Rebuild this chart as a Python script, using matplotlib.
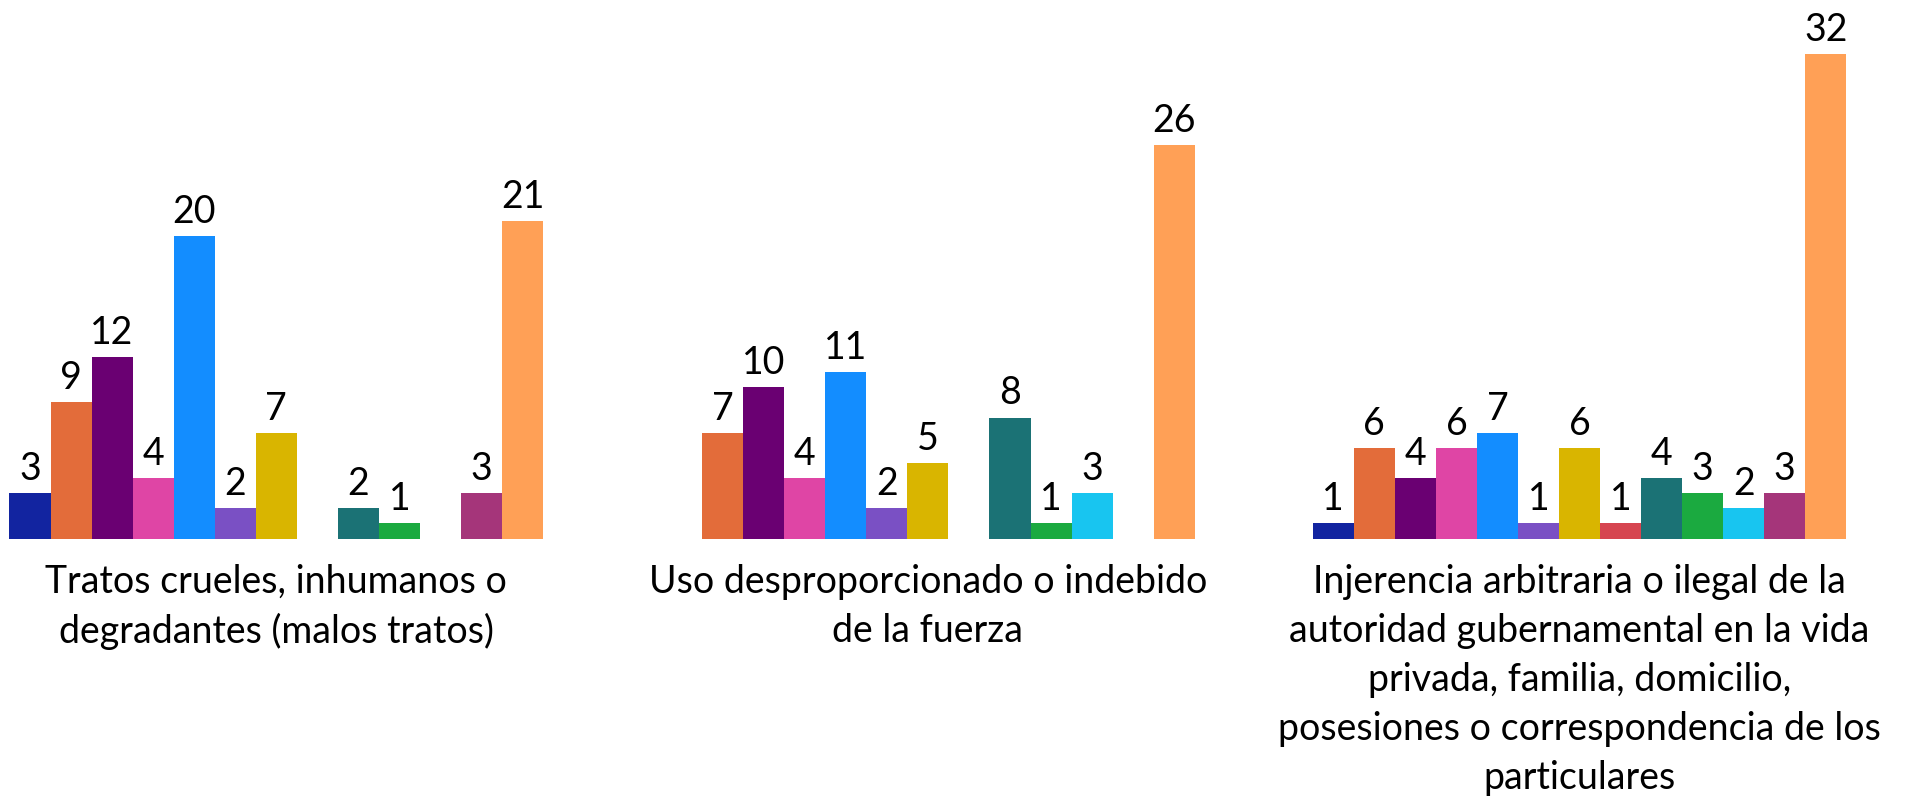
import numpy as np
import matplotlib
matplotlib.use("Agg")
import matplotlib.pyplot as plt

plt.rcParams['font.family'] = ['Lato', 'DejaVu Sans']

categories = [
    "Tratos crueles, inhumanos o\ndegradantes (malos tratos)",
    "Uso desproporcionado o indebido\nde la fuerza",
    "Injerencia arbitraria o ilegal de la\nautoridad gubernamental en la vida\nprivada, familia, domicilio,\nposesiones o correspondencia de los\nparticulares",
]

# one list per series (13 series, same order in every group)
s01 = [3, 0, 1]
s02 = [9, 7, 6]
s03 = [12, 10, 4]
s04 = [4, 4, 6]
s05 = [20, 11, 7]
s06 = [2, 2, 1]
s07 = [7, 5, 6]
s08 = [0, 0, 1]
s09 = [2, 8, 4]
s10 = [1, 1, 3]
s11 = [0, 3, 2]
s12 = [3, 0, 3]
s13 = [21, 26, 32]
series = [s01, s02, s03, s04, s05, s06, s07, s08, s09, s10, s11, s12, s13]

colors = ['#1224A0', '#E36C3A', '#6A0072', '#DF45A5', '#138DFF', '#7A50C4',
          '#D9B500', '#D64550', '#1B7275', '#1BAA40', '#18C5F0', '#A5357A',
          '#FFA056']

fig = plt.figure(figsize=(19.06, 7.99), dpi=100)
ax = fig.add_axes([0, 0.326, 1, 0.674])

x = np.arange(len(categories))
n = len(series)
bw = 0.819 / n

for i, vals in enumerate(series):
    pos = x - 0.819 / 2 + bw * (i + 0.5)
    bars = ax.bar(pos, vals, width=bw, color=colors[i], linewidth=0)
    for b, v in zip(bars, vals):
        if v > 0:
            ax.text(b.get_x() + b.get_width() / 2, v + 0.4, str(v),
                    ha='center', va='bottom', fontsize=27)

ax.set_xlim(-0.424, 2.501)
ax.set_ylim(0, 35.6)
ax.set_xticks(x)
ax.set_xticklabels(categories, fontsize=27, linespacing=1.45)
ax.tick_params(axis='x', length=0, pad=18)
ax.set_yticks([])
for sp in ax.spines.values():
    sp.set_visible(False)

fig.savefig("out.png", dpi=100)
